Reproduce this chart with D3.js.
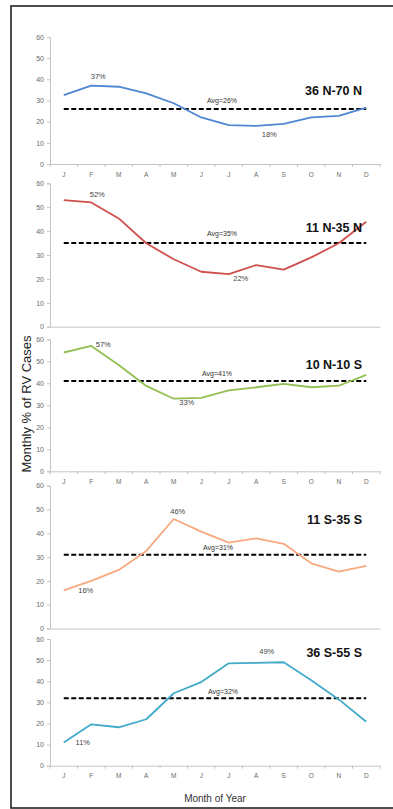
<!DOCTYPE html>
<html>
<head>
<meta charset="utf-8">
<script src="https://cdn.jsdelivr.net/npm/d3@7/dist/d3.min.js"></script>
<style>
  html, body { margin: 0; padding: 0; background: #fff; }
  svg { display: block; }
</style>
</head>
<body>
<svg id="chart" width="393" height="809"></svg>
<script>
// Month letters for the x axis
const months = ["J", "F", "M", "A", "M", "J", "J", "A", "S", "O", "N", "D"];
const yTicks = [0, 10, 20, 30, 40, 50, 60];

// Latitude bands
const regions = ["36 N-70 N", "11 N-35 N", "10 N-10 S", "11 S-35 S", "36 S-55 S"];

// Monthly % of RV cases per latitude band
const north36to70 = [32.5, 37, 36.5, 33.4, 28.7, 22, 18.4, 18, 19, 22, 22.7, 26.6];
const north11to35 = [53, 52, 45.3, 34.9, 28.2, 23, 22, 25.8, 23.9, 29, 34.9, 43.9];
const equator10 = [54, 57, 48.3, 38.8, 33, 33.4, 36.8, 38.2, 39.7, 38.2, 38.9, 43.8];
const south11to35 = [16, 20, 24.6, 32.6, 46, 40.7, 36.1, 37.9, 35.6, 27.4, 23.9, 26.3];
const south36to55 = [11, 19.6, 18.2, 22, 34.3, 39.6, 48.5, 48.7, 49, 40.5, 31.4, 20.8];

// Annual averages per band
const averages = [26, 35, 41, 31, 32];

// Labelled extremes: month index of each labelled point
const peakMonth = [1, 1, 1, 4, 8];
const lowMonth = [7, 6, 4, 0, 0];

const series = [north36to70, north11to35, equator10, south11to35, south36to55];

// ---- layout & style ----
const colors = ["#4f86d1", "#cf4f4c", "#93bf52", "#f9a97f", "#41abc9"];
const panelTop = [37, 183.3, 339.3, 485.7, 639];      // y of 60
const panelBottom = [164, 326.7, 471.3, 628.5, 765.7]; // y of 0
const showMonths = [true, false, true, false, true];
// label offsets [dx, dy] relative to the labelled point
const peakOffset = [[7, -7], [6, -5.7], [12, 1.4], [4, -4.7], [-17, -8]];
const lowOffset = [[13, 11], [12, 6.6], [13, 6], [22, 3], [19, 3]];
const avgLabelX = [222, 222, 217, 218, 223];
const avgLabelDy = [-6, -7.3, -5.4, -5, -4];
const titleBaseline = [95, 231.7, 368.7, 524.3, 656.7];

const font = "'Liberation Sans', Arial, sans-serif";
const svg = d3.select("#chart");

// outer frame
svg.append("rect")
  .attr("x", 11).attr("y", 6)
  .attr("width", 400).attr("height", 802)
  .attr("fill", "none").attr("stroke", "#222").attr("stroke-width", 1.6);

const idx = d3.range(months.length);
const x = d3.scaleBand().domain(idx).range([50, 380]).padding(0);
const xc = i => x(i) + x.bandwidth() / 2;

series.forEach((vals, p) => {
  const y = d3.scaleLinear().domain([0, 60]).range([panelBottom[p], panelTop[p]]);
  const g = svg.append("g");

  // y axis
  const ya = g.append("g")
    .attr("transform", "translate(50,0)")
    .call(d3.axisLeft(y).tickValues(yTicks).tickSize(3).tickPadding(3));
  ya.select(".domain").attr("stroke", "#c4c4c4");
  ya.selectAll(".tick line").attr("stroke", "#c4c4c4");
  ya.selectAll(".tick text").attr("fill", "#6a6a6a")
    .style("font-family", font).style("font-size", "7px");

  // x axis
  const xa = g.append("g")
    .attr("transform", `translate(0,${panelBottom[p]})`)
    .call(d3.axisBottom(x).tickSize(0).tickPadding(8)
      .tickFormat(i => showMonths[p] ? months[i] : ""));
  xa.select(".domain").attr("stroke", "#c4c4c4");
  xa.selectAll(".tick text").attr("fill", "#6a6a6a")
    .style("font-family", font).style("font-size", "6.5px");
  if (showMonths[p]) {
    g.selectAll(".btick")
      .data(d3.range(months.length + 1))
      .join("line")
      .attr("x1", i => i < months.length ? x(i) : x.range()[1])
      .attr("x2", i => i < months.length ? x(i) : x.range()[1])
      .attr("y1", panelBottom[p]).attr("y2", panelBottom[p] + 3)
      .attr("stroke", "#c4c4c4");
  }

  // average line
  g.append("line")
    .attr("x1", xc(0)).attr("x2", xc(11))
    .attr("y1", y(averages[p])).attr("y2", y(averages[p]))
    .attr("stroke", "#000").attr("stroke-width", 2)
    .attr("stroke-dasharray", "5,2.5");

  g.append("text")
    .attr("x", avgLabelX[p]).attr("y", y(averages[p]) + avgLabelDy[p])
    .attr("text-anchor", "middle")
    .attr("fill", "#333")
    .style("font-family", font).style("font-size", "7px")
    .text(`Avg=${averages[p]}%`);

  // monthly line
  g.append("path")
    .datum(vals)
    .attr("fill", "none")
    .attr("stroke", colors[p])
    .attr("stroke-width", 1.8)
    .attr("stroke-linejoin", "round")
    .attr("d", d3.line().x((d, i) => xc(i)).y(d => y(d)));

  // peak and low labels
  [[peakMonth[p], peakOffset[p]], [lowMonth[p], lowOffset[p]]].forEach(([m, off]) => {
    g.append("text")
      .attr("x", xc(m) + off[0]).attr("y", y(vals[m]) + off[1])
      .attr("text-anchor", "middle")
      .attr("fill", "#444")
      .style("font-family", font).style("font-size", "7.5px")
      .text(`${Math.round(vals[m])}%`);
  });

  // band title
  g.append("text")
    .attr("x", 362).attr("y", titleBaseline[p])
    .attr("text-anchor", "end")
    .attr("fill", "#111")
    .style("font-family", font).style("font-size", "12.5px")
    .style("font-weight", "bold")
    .text(regions[p]);
});

// axis titles
svg.append("text")
  .attr("transform", "translate(31,404) rotate(-90)")
  .attr("text-anchor", "middle")
  .attr("fill", "#222")
  .style("font-family", font).style("font-size", "13px")
  .text("Monthly % of RV Cases");

svg.append("text")
  .attr("x", 215).attr("y", 802)
  .attr("text-anchor", "middle")
  .attr("fill", "#333")
  .style("font-family", font).style("font-size", "10px")
  .text("Month of Year");
</script>
</body>
</html>
